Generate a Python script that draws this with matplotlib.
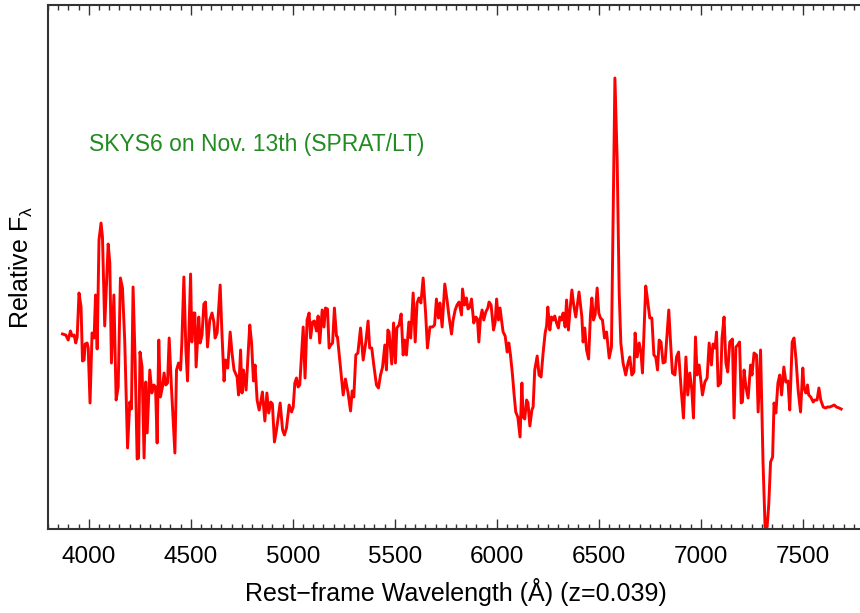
import matplotlib
matplotlib.use("Agg")
import matplotlib.pyplot as plt
from matplotlib.ticker import MultipleLocator

plt.rcParams["font.family"] = ["Liberation Sans", "DejaVu Sans"]
plt.rcParams["mathtext.fontset"] = "custom"
plt.rcParams["mathtext.rm"] = "Liberation Sans"
plt.rcParams["mathtext.it"] = "Liberation Sans"

# rest-frame wavelength (A) and relative flux
wave = [
    3871, 3887, 3899, 3910, 3918, 3928, 3936, 3943, 3952, 3962, 3969, 3977, 3982, 3992, 3997,
    4006, 4016, 4026, 4033, 4041, 4050, 4060, 4067, 4078, 4095, 4103, 4111, 4123, 4134, 4144,
    4155, 4165, 4176, 4190, 4201, 4209, 4217, 4227, 4237, 4244, 4251, 4261, 4271, 4279, 4286,
    4299, 4309, 4319, 4327, 4335, 4343, 4351, 4361, 4369, 4377, 4386, 4394, 4405, 4422, 4430,
    4440, 4450, 4456, 4466, 4476, 4484, 4499, 4505, 4513, 4520, 4526, 4539, 4546, 4555, 4564,
    4572, 4582, 4593, 4604, 4613, 4619, 4629, 4644, 4652, 4663, 4670, 4681, 4693, 4702, 4712,
    4727, 4734, 4744, 4751, 4758, 4771, 4789, 4798, 4807, 4815, 4825, 4835, 4843, 4851, 4863,
    4873, 4882, 4892, 4900, 4910, 4920, 4938, 4950, 4959, 4969, 4982, 4994, 5002, 5010, 5018,
    5026, 5034, 5051, 5060, 5070, 5080, 5087, 5097, 5106, 5116, 5124, 5132, 5144, 5153, 5160,
    5170, 5178, 5186, 5195, 5204, 5214, 5219, 5230, 5247, 5258, 5271, 5283, 5291, 5299, 5309,
    5319, 5332, 5345, 5358, 5369, 5377, 5387, 5397, 5410, 5420, 5430, 5440, 5451, 5459, 5466,
    5472, 5485, 5494, 5503, 5510, 5521, 5531, 5541, 5548, 5557, 5569, 5578, 5590, 5600, 5609,
    5618, 5628, 5639, 5651, 5660, 5672, 5685, 5695, 5704, 5714, 5721, 5732, 5745, 5756, 5766,
    5778, 5786, 5796, 5805, 5815, 5827, 5832, 5842, 5851, 5859, 5868, 5876, 5887, 5897, 5905,
    5912, 5920, 5928, 5936, 5946, 5956, 5962, 5972, 5984, 5992, 5999, 6008, 6016, 6025, 6031,
    6041, 6051, 6059, 6067, 6077, 6085, 6093, 6103, 6114, 6123, 6129, 6137, 6146, 6153, 6162,
    6172, 6178, 6186, 6198, 6207, 6217, 6227, 6237, 6244, 6250, 6260, 6268, 6276, 6284, 6293,
    6302, 6309, 6317, 6325, 6335, 6342, 6351, 6359, 6368, 6377, 6387, 6396, 6403, 6417, 6423,
    6431, 6440, 6450, 6459, 6466, 6474, 6482, 6492, 6500, 6508, 6518, 6528, 6538, 6551, 6562,
    6579, 6590, 6600, 6608, 6619, 6632, 6644, 6652, 6662, 6672, 6678, 6688, 6698, 6707, 6714,
    6730, 6739, 6750, 6760, 6770, 6779, 6788, 6796, 6805, 6815, 6825, 6843, 6853, 6861, 6873,
    6881, 6891, 6904, 6915, 6927, 6936, 6946, 6956, 6964, 6974, 6982, 6992, 7008, 7020, 7031,
    7041, 7052, 7060, 7070, 7077, 7085, 7097, 7104, 7114, 7123, 7132, 7142, 7155, 7163, 7172,
    7181, 7190, 7198, 7204, 7212, 7221, 7232, 7244, 7251, 7261, 7273, 7281, 7293, 7305, 7315,
    7325, 7333, 7342, 7352, 7359, 7368, 7378, 7387, 7396, 7407, 7417, 7427, 7436, 7448, 7457,
    7467, 7477, 7489, 7500, 7506, 7515, 7523, 7529, 7539, 7551, 7559, 7570, 7579, 7588, 7600,
    7611, 7621, 7632, 7644, 7654, 7665, 7678, 7688,
]
flux = [
    0.975, 0.97, 0.945, 0.99, 0.965, 0.97, 0.93, 0.96, 1.18, 1.11, 0.84, 0.845, 0.925, 0.93, 0.905,
    0.63, 0.98, 0.955, 1.17, 0.90, 1.445, 1.53, 1.46, 1.015, 1.425, 1.33, 0.83, 1.17, 0.645, 0.71,
    1.255, 1.205, 0.945, 0.405, 0.635, 0.60, 1.21, 0.845, 0.35, 0.355, 0.885, 0.81, 0.355, 0.735, 0.48,
    0.795, 0.68, 0.72, 0.71, 0.43, 0.945, 0.66, 0.71, 0.78, 0.72, 0.73, 0.955, 0.71, 0.38, 0.795,
    0.83, 0.795, 0.93, 1.26, 0.895, 0.74, 1.275, 0.935, 1.08, 1.08, 0.81, 1.06, 0.93, 0.97, 1.125,
    1.135, 0.91, 1.045, 1.08, 1.035, 0.955, 0.98, 1.22, 0.995, 0.74, 0.845, 0.805, 0.985, 0.88, 0.795,
    0.76, 0.67, 0.895, 0.68, 0.795, 0.695, 1.02, 0.93, 0.74, 0.82, 0.645, 0.595, 0.635, 0.685, 0.54,
    0.68, 0.58, 0.635, 0.625, 0.435, 0.495, 0.63, 0.495, 0.47, 0.505, 0.62, 0.585, 0.61, 0.73, 0.755,
    0.71, 0.72, 1.01, 0.755, 1.045, 1.08, 0.955, 1.035, 1.04, 0.99, 1.065, 0.93, 1.095, 1.01, 1.105,
    1.10, 0.905, 0.92, 0.93, 1.105, 0.965, 0.96, 0.845, 0.67, 0.75, 0.68, 0.59, 0.69, 0.66, 0.87,
    0.88, 1.005, 0.845, 0.935, 1.04, 0.905, 0.905, 0.82, 0.72, 0.705, 0.77, 0.81, 0.92, 0.795, 0.995,
    0.985, 0.825, 1.03, 0.83, 1.005, 1.02, 1.075, 0.87, 0.945, 0.87, 1.035, 0.955, 1.18, 0.935, 1.13,
    1.155, 1.13, 1.255, 1.08, 0.905, 1.01, 1.01, 1.02, 1.15, 1.055, 1.13, 1.01, 1.225, 1.145, 1.06,
    0.975, 1.045, 1.095, 1.12, 1.135, 1.07, 1.20, 1.12, 1.155, 1.10, 1.11, 1.15, 1.03, 1.06, 1.05,
    0.935, 1.055, 1.095, 1.045, 1.085, 1.105, 1.135, 1.12, 0.995, 1.035, 1.15, 1.045, 1.105, 1.03, 0.985,
    0.965, 0.885, 0.93, 0.87, 0.77, 0.67, 0.585, 0.56, 0.46, 0.73, 0.56, 0.55, 0.645, 0.63, 0.515,
    0.595, 0.61, 0.795, 0.865, 0.77, 0.76, 0.88, 0.98, 1.015, 1.11, 0.995, 1.06, 1.045, 1.065, 1.03,
    1.005, 1.06, 1.045, 1.08, 1.01, 1.145, 0.995, 1.095, 1.195, 1.12, 1.06, 1.13, 1.185, 1.06, 0.935,
    1.005, 0.895, 0.85, 1.07, 1.155, 1.045, 1.07, 1.205, 1.08, 1.055, 1.045, 0.955, 0.985, 0.855, 0.91,
    2.255, 1.845, 1.18, 0.93, 0.83, 0.77, 0.835, 0.86, 0.77, 0.785, 0.98, 0.86, 0.93, 0.88, 0.78,
    1.215, 1.145, 1.055, 1.055, 0.87, 0.86, 0.795, 0.945, 0.935, 0.83, 0.835, 1.095, 0.91, 0.78, 0.77,
    0.86, 0.885, 0.695, 0.555, 0.86, 0.67, 0.78, 0.695, 0.555, 0.96, 0.77, 0.82, 0.67, 0.735, 0.755,
    0.93, 0.82, 0.925, 0.905, 0.985, 0.715, 0.73, 0.955, 1.06, 0.83, 0.785, 0.935, 0.95, 0.555, 0.91,
    0.92, 0.935, 0.63, 0.635, 0.795, 0.71, 0.655, 0.82, 0.77, 0.88, 0.87, 0.585, 0.895, 0.335, 0.01,
    0.01, 0.12, 0.335, 0.36, 0.63, 0.58, 0.73, 0.77, 0.67, 0.81, 0.735, 0.74, 0.595, 0.935, 0.955,
    0.845, 0.695, 0.585, 0.805, 0.705, 0.68, 0.72, 0.67, 0.66, 0.635, 0.645, 0.645, 0.705, 0.645, 0.61,
    0.605, 0.61, 0.61, 0.615, 0.62, 0.61, 0.605, 0.60,
]

label_text = "SKYS6 on Nov. 13th (SPRAT/LT)"

fig = plt.figure(figsize=(8.6, 6.13), dpi=100)
ax = fig.add_axes([48 / 860, 84 / 613, 816 / 860, 524 / 613])

ax.plot(wave, flux, color="#ff0000", lw=2.1, solid_joinstyle="round")

ax.set_xlim(3800, 7800)
ax.set_ylim(0, 2.62)
ax.xaxis.set_major_locator(MultipleLocator(500))
ax.xaxis.set_minor_locator(MultipleLocator(50))
ax.set_yticks([])
ax.tick_params(axis="x", which="both", direction="in", top=True, bottom=True,
               labelsize=17.5, pad=12, color="#333333", width=1.0)
ax.tick_params(axis="x", which="major", length=7.5)
ax.tick_params(axis="x", which="minor", length=3.5)
for sp in ax.spines.values():
    sp.set_color("#333333")
    sp.set_linewidth(1.5)

ax.set_xlabel("Rest\u2212frame Wavelength (\u00c5) (z=0.039)", fontsize=18)
ax.xaxis.set_label_coords(0.5, -0.12)
ax.xaxis.label.set_va("center")
ax.set_ylabel(r"Relative F$_\lambda$", fontsize=18)
ax.yaxis.set_label_coords(-0.032, 0.5)
ax.yaxis.label.set_va("center")

ax.text(0.05, 0.733, label_text, transform=ax.transAxes, color="#228b22",
        fontsize=16.5, ha="left", va="center")

fig.savefig("out.png", dpi=100)
